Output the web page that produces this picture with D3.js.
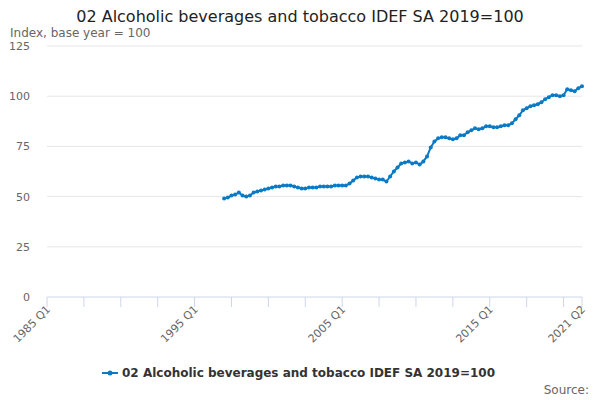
<!DOCTYPE html>
<html><head><meta charset="utf-8">
<script src="https://cdn.jsdelivr.net/npm/d3@7"></script>
<style>body{margin:0;font-family:"DejaVu Sans",sans-serif;}</style>
</head><body><div id="chart"></div>
<script>
var seriesName = "02 Alcoholic beverages and tobacco IDEF SA 2019=100";
var startIndex = 48; // data begins at 1997 Q1 (quarters since 1985 Q1)
var values = [
  49, 49.5, 50.5, 51,
  52, 50.5, 50, 50.5,
  52, 52.5, 53, 53.5,
  54, 54.5, 55, 55,
  55.5, 55.5, 55.5, 55,
  54.5, 54, 54, 54.5,
  54.5, 54.5, 55, 55,
  55, 55, 55.5, 55.5,
  55.5, 55.5, 56.5, 58,
  59.5, 60, 60, 60,
  59.5, 59, 58.5, 58.5,
  57.5, 60, 62.5, 64.5,
  66.5, 67, 67.5, 66.5,
  67, 66, 67.5, 70,
  74.5, 77.5, 79, 79.5,
  79.5, 79, 78.5, 79,
  80.5, 80.5, 82, 83,
  84, 83.5, 84, 85,
  85, 84.5, 84.5, 85,
  85.5, 85.5, 86.5, 88.5,
  90.5, 93, 94, 95,
  95.5, 96, 97, 98.5,
  99.5, 100.5, 100.5, 100,
  100.5, 103.5, 103, 102.5,
  104, 105];
var yTicks = [0, 25, 50, 75, 100, 125];
var xLabels = [[0, "1985 Q1"], [40, "1995 Q1"], [80, "2005 Q1"], [120, "2015 Q1"], [145, "2021 Q2"]];

var data = values.map((v, i) => ({q: startIndex + i, v: v}));
var W = 600, H = 400;
var svg = d3.select("#chart").append("svg").attr("width", W).attr("height", H);
var x = d3.scaleLinear().domain([0, 145]).range([47, 582]);
var y = d3.scaleLinear().domain([0, 125]).range([297, 46]);

svg.append("text").attr("x", 300).attr("y", 22).attr("text-anchor", "middle")
  .attr("font-size", 16).attr("fill", "#222").text(seriesName);
svg.append("text").attr("x", 10).attr("y", 37).attr("font-size", 12).attr("fill", "#666")
  .text("Index, base year = 100");

// grid + y labels
svg.selectAll(".grid").data(yTicks).enter().append("line")
  .attr("x1", 47).attr("x2", 582).attr("y1", d => y(d)).attr("y2", d => y(d))
  .attr("stroke", d => d === 0 ? "#ccd6eb" : "#e6e6e6");
svg.selectAll(".yl").data(yTicks).enter().append("text")
  .attr("x", 30).attr("y", d => y(d) + 4).attr("text-anchor", "end")
  .attr("font-size", 11).attr("fill", "#666").text(d => d);

// x ticks every 10 quarters
var xt = d3.range(0, 146, 10).concat([145]);
svg.selectAll(".xt").data(xt).enter().append("line")
  .attr("x1", d => x(d)).attr("x2", d => x(d)).attr("y1", 297).attr("y2", 307)
  .attr("stroke", "#ccd6eb");
svg.selectAll(".xl").data(xLabels).enter().append("text")
  .attr("text-anchor", "end").attr("font-size", 11).attr("fill", "#666")
  .attr("transform", d => "translate(" + (x(d[0]) + 4) + ",310) rotate(-45)")
  .text(d => d[1]);

var line = d3.line().x(d => x(d.q)).y(d => y(d.v));
svg.append("path").datum(data).attr("d", line).attr("fill", "none")
  .attr("stroke", "#0a7ac4").attr("stroke-width", 2);
svg.selectAll(".pt").data(data).enter().append("circle")
  .attr("cx", d => x(d.q)).attr("cy", d => y(d.v)).attr("r", 2).attr("fill", "#0a7ac4");

// legend
var lg = svg.append("g");
lg.append("line").attr("x1", 102).attr("x2", 118).attr("y1", 373).attr("y2", 373)
  .attr("stroke", "#0a7ac4").attr("stroke-width", 2);
lg.append("circle").attr("cx", 110).attr("cy", 373).attr("r", 2.5).attr("fill", "#0a7ac4");
lg.append("text").attr("x", 122).attr("y", 377).attr("font-size", 12).attr("font-weight", "bold")
  .attr("fill", "#333").text(seriesName);
svg.append("text").attr("x", 589).attr("y", 394).attr("text-anchor", "end")
  .attr("font-size", 12).attr("fill", "#666").text("Source:");
</script></body></html>
